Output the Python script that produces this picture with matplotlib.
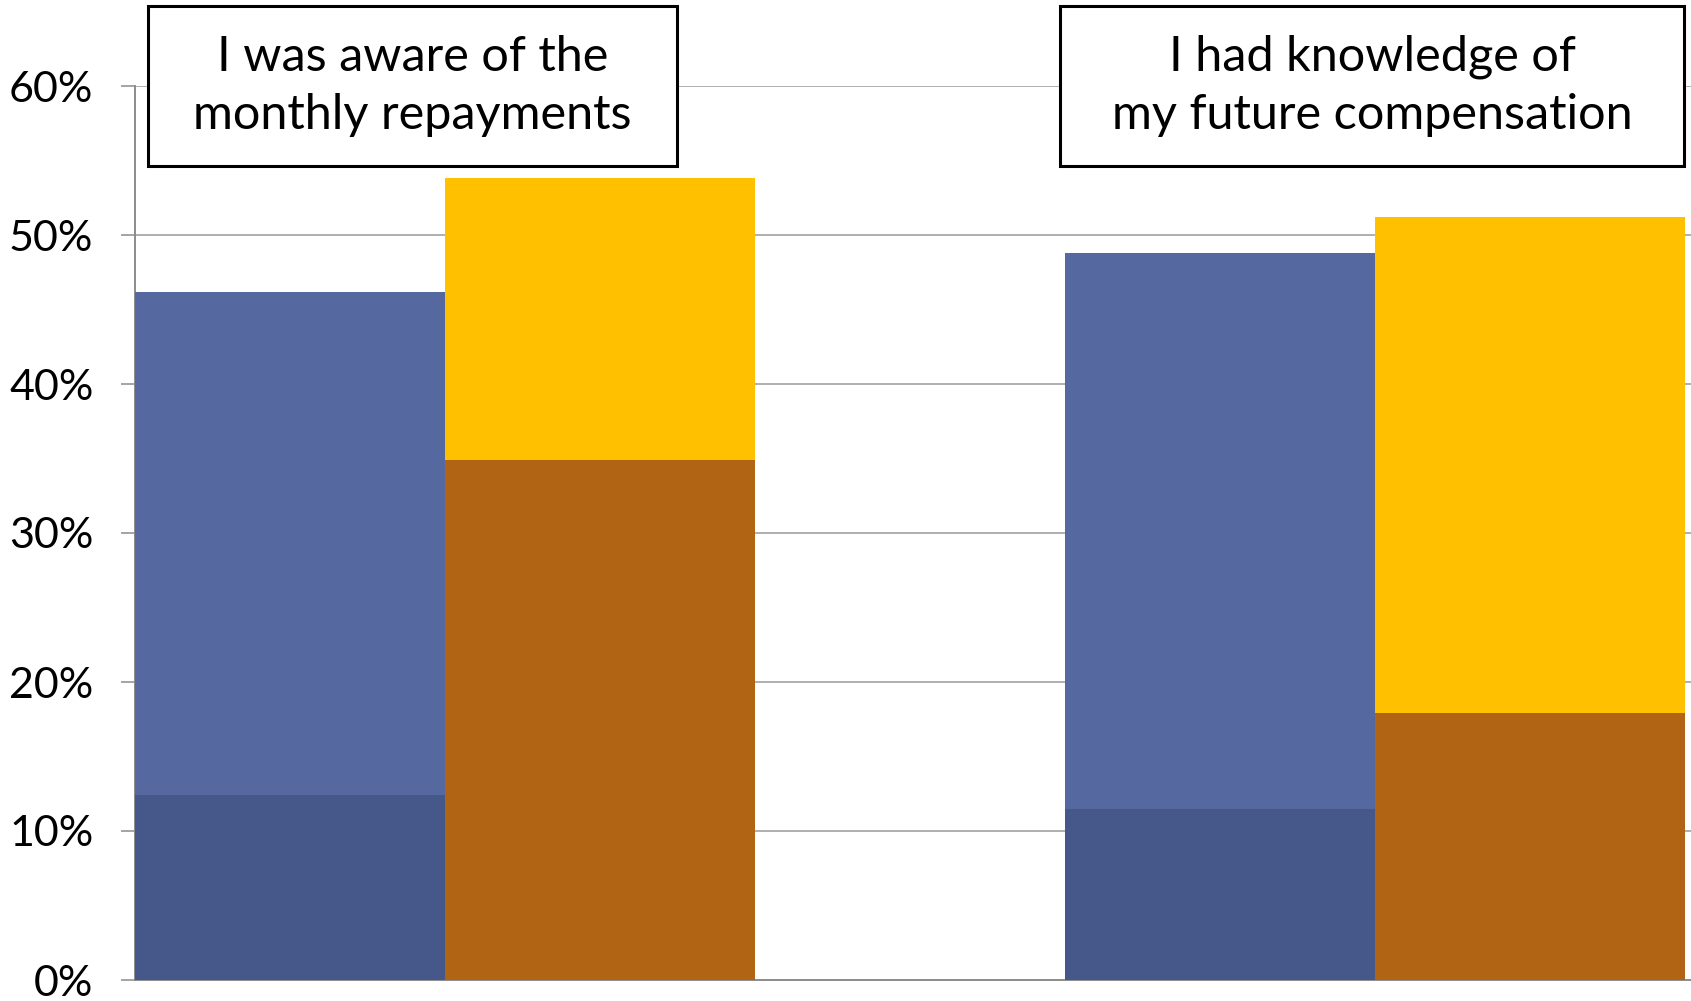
import matplotlib
matplotlib.use('Agg')
from matplotlib import pyplot as pl
from matplotlib.patches import Rectangle

pl.rcParams['font.family'] = ['Lato', 'DejaVu Sans']

statements = [
    'I was aware of the\nmonthly repayments',
    'I had knowledge of\nmy future compensation',
]

# share of respondents, %, per statement
blue_low = [12.4, 11.5]
blue_high = [33.8, 37.3]
orange_low = [34.9, 17.9]
orange_high = [18.9, 33.3]

yticks = [0, 10, 20, 30, 40, 50, 60]

dark_blue = '#46578A'
light_blue = '#5668A0'
dark_orange = '#B26415'
yellow = '#FFC000'

width = 1/3
x = [0, 1]
x_blue = [i - width/2 for i in x]
x_orange = [i + width/2 for i in x]

fig = pl.figure(figsize=(16.91, 10.01), dpi=100)
ax = fig.add_axes([135/1691, 21/1001, 1 - 135/1691, (980 - 86)/1001])

ax.bar(x_blue, blue_low, width=width, color=dark_blue, linewidth=0, zorder=3)
ax.bar(x_blue, blue_high, width=width, bottom=blue_low, color=light_blue,
       linewidth=0, zorder=3)
ax.bar(x_orange, orange_low, width=width, color=dark_orange, linewidth=0,
       zorder=3)
ax.bar(x_orange, orange_high, width=width, bottom=orange_low, color=yellow,
       linewidth=0, zorder=3)

ax.set_xlim(-width, 1.34)
ax.set_ylim(0, 60)
ax.set_yticks(yticks)
ax.set_yticklabels([str(t) + '%' for t in yticks], fontsize=31)
ax.set_xticks([])
ax.yaxis.grid(True, color='#9A9A9A', linewidth=1.1, zorder=0)
ax.set_axisbelow(True)
ax.tick_params(axis='y', length=10, width=1.1, color='#8C8C8C', pad=20)

for side in ['top', 'right']:
    ax.spines[side].set_visible(False)
for side in ['left', 'bottom']:
    ax.spines[side].set_color('#8C8C8C')
    ax.spines[side].set_linewidth(1.4)

# statement boxes above each group, in pixel units of the figure
boxes = [(148, 6, 677, 166), (1060, 6, 1684, 166)]
W, H = 1691, 1001
for (x0, y0, x1, y1), label in zip(boxes, statements):
    rect = Rectangle((x0/W, 1 - y1/H), (x1 - x0)/W, (y1 - y0)/H,
                     transform=fig.transFigure, facecolor='white',
                     edgecolor='black', linewidth=2.2, zorder=5)
    fig.patches.append(rect)
    fig.text((x0 + x1)/2/W, 1 - (y0 + y1)/2/H, label, ha='center',
             va='center', fontsize=35, linespacing=1.4, zorder=6)

fig.savefig('out.png', dpi=100)
